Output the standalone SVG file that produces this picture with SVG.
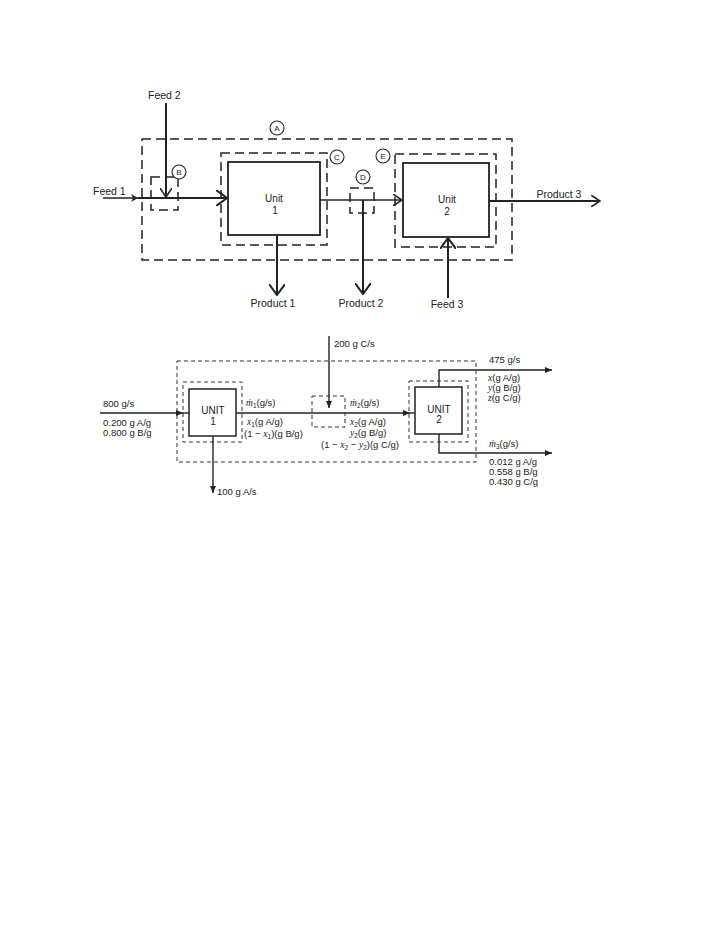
<svg xmlns="http://www.w3.org/2000/svg" width="728" height="942" viewBox="0 0 728 942">
<defs>
<style>
.t{font-family:"Liberation Sans",Arial,sans-serif;font-size:9.5px;fill:#222}
.tt{font-family:"Liberation Sans",Arial,sans-serif;font-size:10.5px;fill:#222}
.tb{font-family:"Liberation Sans",Arial,sans-serif;font-size:10px;fill:#222}
.c{font-family:"Liberation Sans",Arial,sans-serif;font-size:8px;fill:#222;text-anchor:middle}
.mid{text-anchor:middle}
.i{font-style:italic;font-family:"Liberation Serif","Times New Roman",serif}
.sub{font-size:6.5px}
.dT{fill:none;stroke:#222;stroke-width:1.5;stroke-dasharray:9 5}
.sT{fill:#fff;stroke:#222;stroke-width:1.8}
.cir{fill:#fff;stroke:#222;stroke-width:1.1}
.lT{fill:none;stroke:#222;stroke-width:2}
.lT2{fill:none;stroke:#222;stroke-width:1.4}
.dB{fill:none;stroke:#333;stroke-width:1;stroke-dasharray:4 3}
.sB{fill:#fff;stroke:#222;stroke-width:1.5}
.lB{fill:none;stroke:#222;stroke-width:1.4}
</style>
<marker id="big" viewBox="0 0 12 16" refX="11" refY="8" markerWidth="12" markerHeight="16" markerUnits="userSpaceOnUse" orient="auto"><path d="M0,0 L11,8 L0,16" fill="none" stroke="#222" stroke-width="2"/></marker>
<marker id="med" viewBox="0 0 10 12" refX="9" refY="6" markerWidth="10" markerHeight="12" markerUnits="userSpaceOnUse" orient="auto"><path d="M0,0 L9,6 L0,12" fill="none" stroke="#222" stroke-width="1.6"/></marker>
<marker id="sml" viewBox="0 0 7 8" refX="7" refY="4" markerWidth="7" markerHeight="8" markerUnits="userSpaceOnUse" orient="auto"><path d="M0,0 L7,4 L0,8 L2,4 Z" fill="#222"/></marker>
<marker id="tri" viewBox="0 0 7 6" refX="7" refY="3" markerWidth="7" markerHeight="6" markerUnits="userSpaceOnUse" orient="auto"><path d="M0,0 L7,3 L0,6 Z" fill="#222"/></marker>
</defs>
<rect width="728" height="942" fill="#fff"/>

<!-- TOP DIAGRAM -->
<g id="top-boundaries">
<rect id="boundary-A" class="dT" x="142" y="139" width="370" height="121"/>
<rect id="boundary-C" class="dT" x="221" y="153" width="106" height="92"/>
<rect id="boundary-B" class="dT" x="151" y="177" width="27" height="33"/>
<rect id="boundary-D" class="dT" x="350" y="188" width="24" height="25"/>
<rect id="boundary-E" class="dT" x="395" y="154" width="101" height="93"/>
</g>
<g id="top-connectors">
<path class="lT2" d="M103,198 L138,198" marker-end="url(#sml)"/>
<path class="lT" d="M138,198 L227,198" marker-end="url(#big)"/>
<path class="lT" d="M166,103 L166,197" marker-end="url(#med)"/>
<path class="lT2" d="M320,200 L402,200" marker-end="url(#med)"/>
<path class="lT" d="M277,235 L277,295" marker-end="url(#big)"/>
<path class="lT" d="M363,200 L363,294" marker-end="url(#big)"/>
<path class="lT" d="M489,201 L600,201" marker-end="url(#med)"/>
<path class="lT" d="M448,298 L448,238" marker-end="url(#big)"/>
</g>
<g id="unit1-top">
<rect class="sT" x="228" y="162" width="92" height="73"/>
<text class="tb mid" x="274" y="202">Unit</text>
<text class="tb mid" x="275" y="214">1</text>
</g>
<g id="unit2-top">
<rect class="sT" x="403" y="163" width="86" height="74"/>
<text class="tb mid" x="447" y="203">Unit</text>
<text class="tb mid" x="447" y="215">2</text>
</g>
<g id="circle-labels">
<g id="label-A"><circle class="cir" cx="277" cy="128" r="7"/><text class="c" x="277" y="131">A</text></g>
<g id="label-B"><circle class="cir" cx="179" cy="172" r="7"/><text class="c" x="179" y="175">B</text></g>
<g id="label-C"><circle class="cir" cx="337" cy="157" r="7"/><text class="c" x="337" y="160">C</text></g>
<g id="label-D"><circle class="cir" cx="363" cy="177" r="7"/><text class="c" x="363" y="180">D</text></g>
<g id="label-E"><circle class="cir" cx="383" cy="156" r="7"/><text class="c" x="383" y="159">E</text></g>
</g>
<g id="top-labels">
<text class="tt" x="148" y="99">Feed 2</text>
<text class="tt" x="93" y="195">Feed 1</text>
<text class="tt mid" x="273" y="307">Product 1</text>
<text class="tt mid" x="361" y="307">Product 2</text>
<text class="tt mid" x="447" y="308">Feed 3</text>
<text class="tt mid" x="559" y="198">Product 3</text>
</g>

<!-- BOTTOM DIAGRAM -->
<g id="bottom-boundaries">
<rect id="outer-boundary" class="dB" x="177" y="361" width="299" height="101"/>
<rect id="unit1-boundary" class="dB" x="183" y="382" width="59" height="60"/>
<rect id="mixer-boundary" class="dB" x="312" y="396" width="33" height="31"/>
<rect id="unit2-boundary" class="dB" x="409" y="381" width="59" height="61"/>
</g>
<g id="bottom-connectors">
<path class="lB" d="M100,413 L183,413" marker-end="url(#tri)"/>
<path class="lB" d="M183,413 L189,413"/>
<path class="lB" d="M236,413 L410,413" marker-end="url(#tri)"/>
<path class="lB" d="M410,413 L415,413"/>
<path class="lB" d="M329,336 L329,408" marker-end="url(#tri)"/>
<path class="lB" d="M213,436 L213,493" marker-end="url(#tri)"/>
<path class="lB" d="M439,387 L439,370 L552,370" marker-end="url(#tri)"/>
<path class="lB" d="M439,434 L439,453 L552,453" marker-end="url(#tri)"/>
</g>
<g id="unit1-bottom">
<rect class="sB" x="189" y="389" width="47" height="47"/>
<text class="tb mid" x="213" y="414">UNIT</text>
<text class="tb mid" x="213" y="425">1</text>
</g>
<g id="unit2-bottom">
<rect class="sB" x="415" y="387" width="47" height="47"/>
<text class="tb mid" x="439" y="413">UNIT</text>
<text class="tb mid" x="439" y="423">2</text>
</g>
<g id="bottom-labels">
<text class="t" x="103" y="407">800 g/s</text>
<text class="t" x="103" y="426">0.200 g A/g</text>
<text class="t" x="103" y="436">0.800 g B/g</text>
<text class="t" x="217" y="495">100 g A/s</text>
<text class="t" x="334" y="347">200 g C/s</text>
<text class="t" x="246" y="406"><tspan class="i">ṁ</tspan><tspan class="sub" dy="1.5">1</tspan><tspan dy="-1.5">(g/s)</tspan></text>
<text class="t" x="247" y="425"><tspan class="i">x</tspan><tspan class="sub" dy="1.5">1</tspan><tspan dy="-1.5">(g A/g)</tspan></text>
<text class="t" x="244" y="437">(1 − <tspan class="i">x</tspan><tspan class="sub" dy="1.5">1</tspan><tspan dy="-1.5">)(g B/g)</tspan></text>
<text class="t" x="350" y="406"><tspan class="i">ṁ</tspan><tspan class="sub" dy="1.5">2</tspan><tspan dy="-1.5">(g/s)</tspan></text>
<text class="t" x="350" y="425"><tspan class="i">x</tspan><tspan class="sub" dy="1.5">2</tspan><tspan dy="-1.5">(g A/g)</tspan></text>
<text class="t" x="350" y="436"><tspan class="i">y</tspan><tspan class="sub" dy="1.5">2</tspan><tspan dy="-1.5">(g B/g)</tspan></text>
<text class="t" x="321" y="448">(1 − <tspan class="i">x</tspan><tspan class="sub" dy="1.5">2</tspan><tspan dy="-1.5"> − </tspan><tspan class="i">y</tspan><tspan class="sub" dy="1.5">2</tspan><tspan dy="-1.5">)(g C/g)</tspan></text>
<text class="t" x="489" y="363">475 g/s</text>
<text class="t" x="488" y="381"><tspan class="i">x</tspan>(g A/g)</text>
<text class="t" x="488" y="391"><tspan class="i">y</tspan>(g B/g)</text>
<text class="t" x="488" y="401"><tspan class="i">z</tspan>(g C/g)</text>
<text class="t" x="489" y="447"><tspan class="i">ṁ</tspan><tspan class="sub" dy="1.5">3</tspan><tspan dy="-1.5">(g/s)</tspan></text>
<text class="t" x="489" y="465">0.012 g A/g</text>
<text class="t" x="489" y="475">0.558 g B/g</text>
<text class="t" x="489" y="485">0.430 g C/g</text>
</g>
</svg>
